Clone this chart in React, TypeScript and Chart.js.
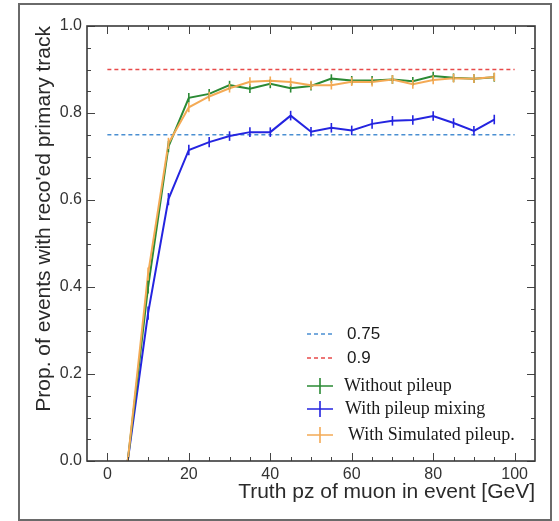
import React, { useEffect, useRef } from "react";
import { Chart, registerables } from "chart.js";

Chart.register(...registerables);

// ---- data ----
const pzValues = [5, 10, 15, 20, 25, 30, 35, 40, 45, 50, 55, 60, 65, 70, 75, 80, 85, 90, 95];
const withoutPileup = [0, 0.40, 0.723, 0.835, 0.844, 0.864, 0.856, 0.867, 0.857, 0.862, 0.879, 0.875, 0.875, 0.877, 0.873, 0.885, 0.881, 0.879, 0.882];
const withPileupMixing = [0, 0.34, 0.602, 0.715, 0.733, 0.747, 0.756, 0.756, 0.794, 0.757, 0.766, 0.760, 0.775, 0.782, 0.784, 0.793, 0.777, 0.759, 0.785];
const withSimulatedPileup = [0, 0.43, 0.730, 0.813, 0.838, 0.857, 0.872, 0.874, 0.871, 0.864, 0.864, 0.872, 0.871, 0.877, 0.866, 0.876, 0.880, 0.879, 0.883];
const errWithout = [0, 0.015, 0.013, 0.011, 0.011, 0.01, 0.01, 0.01, 0.01, 0.01, 0.01, 0.01, 0.01, 0.01, 0.01, 0.01, 0.01, 0.01, 0.01];
const errMixing = [0, 0.015, 0.014, 0.012, 0.012, 0.011, 0.011, 0.011, 0.011, 0.011, 0.011, 0.011, 0.011, 0.011, 0.011, 0.011, 0.011, 0.011, 0.011];
const errSimulated = [0, 0.015, 0.013, 0.011, 0.011, 0.01, 0.01, 0.01, 0.01, 0.01, 0.01, 0.01, 0.01, 0.01, 0.01, 0.01, 0.01, 0.01, 0.01];
const thresholdX = [0, 100];
const threshold075 = [0.75, 0.75];
const threshold090 = [0.9, 0.9];

const xTickValues = [0, 20, 40, 60, 80, 100];
const xMinorTicks = [5, 10, 15, 25, 30, 35, 45, 50, 55, 65, 70, 75, 85, 90, 95];
const yTickValues = [0, 0.2, 0.4, 0.6, 0.8, 1.0];
const yMinorTicks = [0.05, 0.1, 0.15, 0.25, 0.3, 0.35, 0.45, 0.5, 0.55, 0.65, 0.7, 0.75, 0.85, 0.9, 0.95];

const xTitle = "Truth pz of muon in event [GeV]";
const yTitle = "Prop. of events with reco'ed primary track";

const GREEN = "#2b8a35";
const BLUE = "#2424e0";
const ORANGE = "#f4aa55";
const DASH_BLUE = "#4a8fd2";
const DASH_RED = "#e84a4a";

const legendItems = [
  { label: "0.75", kind: "dash", color: DASH_BLUE },
  { label: "0.9", kind: "dash", color: DASH_RED },
  { label: "Without pileup", kind: "cross", color: GREEN },
  { label: "With pileup mixing", kind: "cross", color: BLUE },
  { label: "With Simulated pileup.", kind: "cross", color: ORANGE },
];

const pts = (xs: number[], ys: number[]) => xs.map((x, i) => ({ x, y: ys[i] }));

const errorBarPlugin = {
  id: "errorBars",
  afterDatasetsDraw(chart: any) {
    const ctx = chart.ctx;
    const xs = chart.scales.x;
    const ys = chart.scales.y;
    ctx.save();
    chart.data.datasets.forEach((ds: any) => {
      if (!ds.errors) return;
      ctx.strokeStyle = ds.borderColor;
      ctx.lineWidth = 1.6;
      ds.data.forEach((p: any, i: number) => {
        const e = ds.errors[i];
        if (!e) return;
        const px = xs.getPixelForValue(p.x);
        ctx.beginPath();
        ctx.moveTo(px, ys.getPixelForValue(p.y - e));
        ctx.lineTo(px, ys.getPixelForValue(p.y + e));
        ctx.stroke();
      });
    });
    ctx.restore();
  },
};

const framePlugin = {
  id: "frameTicks",
  afterDraw(chart: any) {
    const ctx = chart.ctx;
    const { left, right, top, bottom } = chart.chartArea;
    const xs = chart.scales.x;
    const ys = chart.scales.y;
    ctx.save();
    ctx.strokeStyle = "#444";
    ctx.lineWidth = 1;
    const tick = (x1: number, y1: number, x2: number, y2: number) => {
      ctx.beginPath();
      ctx.moveTo(x1, y1);
      ctx.lineTo(x2, y2);
      ctx.stroke();
    };
    xTickValues.forEach((v) => {
      const px = Math.round(xs.getPixelForValue(v)) + 0.5;
      tick(px, bottom, px, bottom - 8);
      tick(px, top, px, top + 8);
    });
    xMinorTicks.forEach((v) => {
      const px = Math.round(xs.getPixelForValue(v)) + 0.5;
      tick(px, bottom, px, bottom - 4);
      tick(px, top, px, top + 4);
    });
    yTickValues.forEach((v) => {
      const py = Math.round(ys.getPixelForValue(v)) + 0.5;
      tick(left, py, left + 8, py);
      tick(right, py, right - 8, py);
    });
    yMinorTicks.forEach((v) => {
      const py = Math.round(ys.getPixelForValue(v)) + 0.5;
      tick(left, py, left + 4, py);
      tick(right, py, right - 4, py);
    });
    ctx.lineWidth = 1.6;
    ctx.strokeStyle = "#3a3a3a";
    ctx.strokeRect(left, top, right - left, bottom - top);
    ctx.restore();
  },
};

const legendPlugin = {
  id: "insideLegend",
  afterDraw(chart: any) {
    const ctx = chart.ctx;
    const { left, bottom } = chart.chartArea;
    const symX = left + 220;
    const symW = 26;
    const rows = [bottom - 127, bottom - 103, bottom - 75, bottom - 52, bottom - 26];
    const textX = [left + 260, left + 260, left + 257, left + 258, left + 261];
    ctx.save();
    legendItems.forEach((it, i) => {
      const y = rows[i];
      ctx.strokeStyle = it.color;
      if (it.kind === "dash") {
        ctx.lineWidth = 1.3;
        ctx.setLineDash([4, 3]);
        ctx.beginPath();
        ctx.moveTo(symX, y);
        ctx.lineTo(symX + symW, y);
        ctx.stroke();
        ctx.setLineDash([]);
        ctx.font = "17px 'Liberation Sans', Arial, sans-serif";
      } else {
        ctx.lineWidth = 1.6;
        ctx.beginPath();
        ctx.moveTo(symX, y);
        ctx.lineTo(symX + symW, y);
        ctx.moveTo(symX + symW / 2, y - 8);
        ctx.lineTo(symX + symW / 2, y + 8);
        ctx.stroke();
        ctx.font = "18px 'Liberation Serif', 'Times New Roman', serif";
      }
      ctx.fillStyle = "#1a1a1a";
      ctx.textBaseline = "middle";
      ctx.textAlign = "left";
      ctx.fillText(it.label, textX[i], y);
    });
    ctx.restore();
  },
};

export default function App() {
  const ref = useRef<HTMLCanvasElement | null>(null);

  useEffect(() => {
    if (!ref.current) return;
    const chart = new Chart(ref.current, {
      type: "line",
      data: {
        datasets: [
          {
            label: "0.75",
            data: pts(thresholdX, threshold075),
            borderColor: DASH_BLUE,
            borderWidth: 1.3,
            borderDash: [4, 3],
            pointRadius: 0,
            order: 5,
          },
          {
            label: "0.9",
            data: pts(thresholdX, threshold090),
            borderColor: DASH_RED,
            borderWidth: 1.3,
            borderDash: [4, 3],
            pointRadius: 0,
            order: 4,
          },
          {
            label: "Without pileup",
            data: pts(pzValues, withoutPileup),
            errors: errWithout,
            borderColor: GREEN,
            borderWidth: 2,
            pointRadius: 0,
            order: 2,
          } as any,
          {
            label: "With pileup mixing",
            data: pts(pzValues, withPileupMixing),
            errors: errMixing,
            borderColor: BLUE,
            borderWidth: 2,
            pointRadius: 0,
            order: 3,
          } as any,
          {
            label: "With Simulated pileup.",
            data: pts(pzValues, withSimulatedPileup),
            errors: errSimulated,
            borderColor: ORANGE,
            borderWidth: 2,
            pointRadius: 0,
            order: 1,
          } as any,
        ],
      },
      options: {
        animation: false,
        responsive: false,
        events: [],
        layout: { padding: { top: 26, right: 24, left: 0, bottom: 0 } },
        plugins: { legend: { display: false }, tooltip: { enabled: false } },
        scales: {
          x: {
            type: "linear",
            position: "bottom",
            min: -5,
            max: 105,
            afterBuildTicks: (s: any) => {
              s.ticks = xTickValues.map((v) => ({ value: v }));
            },
            afterFit: (s: any) => {
              s.height = 60;
            },
            grid: { display: false, drawTicks: false },
            border: { display: false },
            ticks: {
              padding: 4,
              color: "#333",
              font: { family: "'Liberation Sans', Arial, sans-serif", size: 16 },
              maxRotation: 0,
              autoSkip: false,
            },
            title: {
              display: true,
              text: xTitle,
              align: "end",
              color: "#2a2a2a",
              font: { family: "'Liberation Sans', Arial, sans-serif", size: 21 },
              padding: { top: 0, bottom: 16 },
            },
          },
          y: {
            type: "linear",
            position: "left",
            min: 0,
            max: 1,
            afterBuildTicks: (s: any) => {
              s.ticks = yTickValues.map((v) => ({ value: v }));
            },
            afterFit: (s: any) => {
              s.width = 87;
            },
            grid: { display: false, drawTicks: false },
            border: { display: false },
            ticks: {
              padding: 5,
              color: "#333",
              font: { family: "'Liberation Sans', Arial, sans-serif", size: 16 },
              callback: (v: any) => Number(v).toFixed(1),
            },
            title: {
              display: true,
              text: yTitle,
              align: "end",
              color: "#2a2a2a",
              font: { family: "'Liberation Sans', Arial, sans-serif", size: 21 },
              padding: { top: 32, bottom: 0 },
            },
          },
        },
      } as any,
      plugins: [errorBarPlugin, framePlugin, legendPlugin],
    });
    return () => chart.destroy();
  }, []);

  return (
    <div style={{ position: "fixed", left: 0, top: 0, width: 559, height: 521, background: "#fff" }}>
      <div
        style={{
          position: "absolute",
          left: 18,
          top: 3,
          width: 534,
          height: 518,
          boxSizing: "border-box",
          border: "2px solid #6a6a6a",
        }}
      />
      <canvas ref={ref} width={559} height={521} style={{ position: "absolute", left: 0, top: 0 }} />
    </div>
  );
}
